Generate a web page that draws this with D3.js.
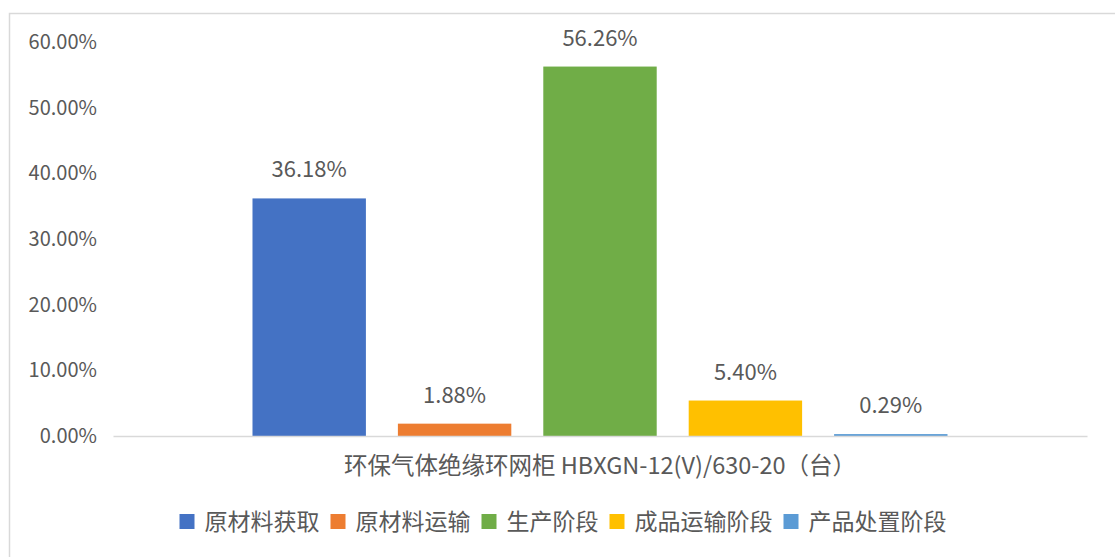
<!DOCTYPE html>
<html><head><meta charset="utf-8">
<script src="https://cdn.jsdelivr.net/npm/d3@7"></script>
<style>
html,body{margin:0;padding:0;background:#fff;}
text{font-family:"Noto Sans CJK SC","Noto Sans",sans-serif;fill:#595959;}
</style></head>
<body><svg id="c" width="1115" height="557"></svg>
<script>
const category = ["环保气体绝缘环网柜 HBXGN-12(V)/630-20（台）"];
const seriesNames = ["原材料获取","原材料运输","生产阶段","成品运输阶段","产品处置阶段"];
const seriesValues = [0.3618,0.0188,0.5626,0.0540,0.0029];
const seriesColors = ["#4472C4","#ED7D31","#70AD47","#FFC000","#5B9BD5"];
const yTicks = [0,0.1,0.2,0.3,0.4,0.5,0.6];

const svg = d3.select("#c");
svg.append("rect").attr("x",9.5).attr("y",13.5).attr("width",1120).attr("height",560)
  .attr("fill","#fff").attr("stroke","#D9D9D9").attr("stroke-width",1.5);

const pLeft=113,pRight=1087,pTop=42,pBottom=436;
const y = d3.scaleLinear().domain([0,0.6]).range([pBottom,pTop]);
const x0 = d3.scaleBand().domain(category).range([pLeft,pRight]).paddingInner(0).paddingOuter(0.2007);
const x1 = d3.scaleBand().domain(seriesNames).range([0,x0.bandwidth()]).paddingInner(0.22).paddingOuter(0);

// y axis
const yAxis = svg.append("g").attr("transform",`translate(${97},0)`)
  .call(d3.axisLeft(y).tickValues(yTicks).tickFormat(d3.format(".2%")).tickSize(0).tickPadding(0));
yAxis.select(".domain").remove();
yAxis.selectAll("text").style("font-family",'"Noto Sans CJK SC",sans-serif').style("font-size","20px").attr("fill","#595959");

// bars
const data = seriesNames.map((n,i)=>({name:n,value:seriesValues[i],color:seriesColors[i]}));
const g = svg.append("g").attr("transform",`translate(${x0(category[0])},0)`);
g.selectAll("rect").data(data).join("rect")
  .attr("x",d=>x1(d.name)).attr("width",x1.bandwidth())
  .attr("y",d=>y(d.value)).attr("height",d=>y(0)-y(d.value))
  .attr("fill",d=>d.color);
g.selectAll("text.lbl").data(data).join("text").attr("class","lbl")
  .attr("x",d=>x1(d.name)+x1.bandwidth()/2).attr("y",d=>y(d.value)-21)
  .attr("text-anchor","middle").style("font-size","22px")
  .text(d=>d3.format(".2%")(d.value));

// x axis
const xAxis = svg.append("g").attr("transform",`translate(0,${pBottom})`)
  .call(d3.axisBottom(x0).tickSize(0).tickPadding(0));
xAxis.select(".domain").attr("stroke","#D9D9D9").attr("stroke-width",1.5);
xAxis.selectAll("text").attr("dy",0).attr("y",38).attr("fill","#595959")
  .style("font-family",'"Noto Sans CJK SC",sans-serif').style("font-size","23.5px");

// legend
const leg = svg.append("g");
let cx = 0;
const itemGap = 11;
data.forEach((d,i)=>{
  const it = leg.append("g");
  it.append("rect").attr("x",0).attr("y",-8).attr("width",15).attr("height",15).attr("fill",d.color);
  const t = it.append("text").attr("x",25).attr("y",8).style("font-size","23px").text(d.name);
  const w = 25 + t.node().getComputedTextLength();
  it.attr("transform",`translate(${cx},0)`);
  cx += w + itemGap;
});
const totalW = cx - itemGap;
leg.attr("transform",`translate(${563 - totalW/2},${522})`);
</script></body></html>
